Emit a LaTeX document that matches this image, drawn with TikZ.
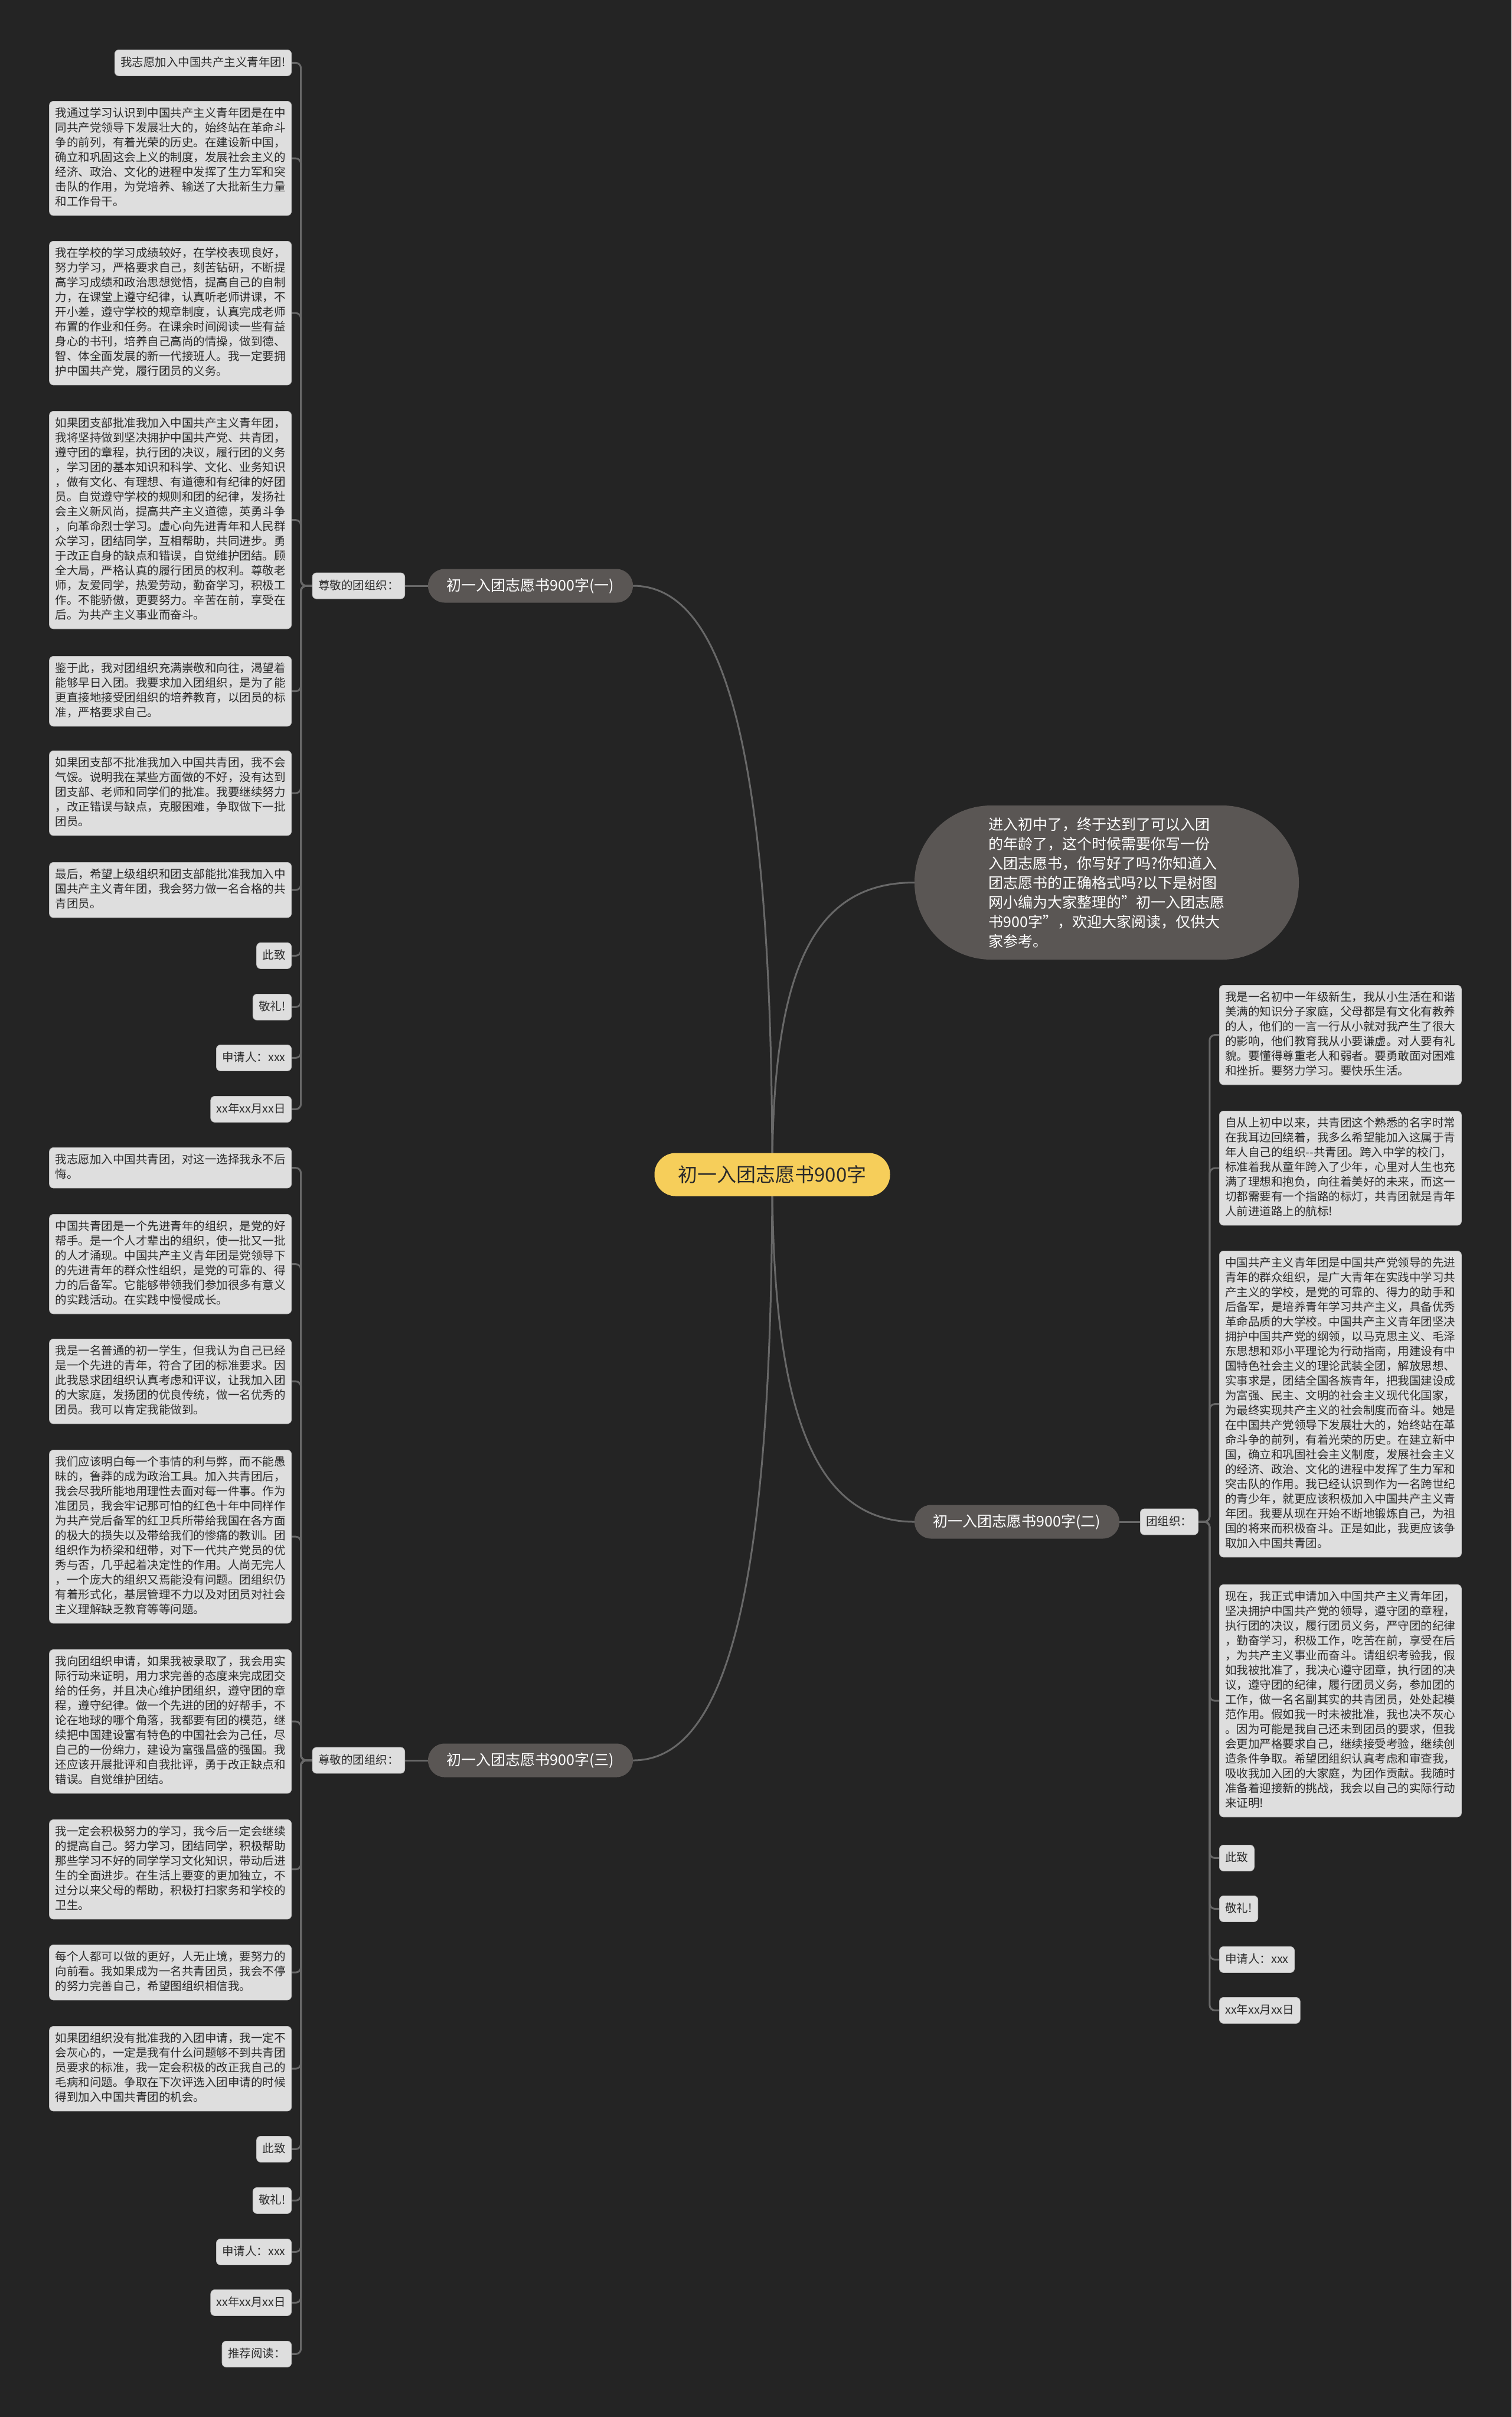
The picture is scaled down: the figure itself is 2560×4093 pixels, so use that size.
\documentclass[tikz,border=0pt]{standalone}
\usepackage{fontspec}
\setmainfont{Noto Sans CJK SC}
\usetikzlibrary{backgrounds}
\definecolor{bgc}{HTML}{242424}
\definecolor{boxfill}{HTML}{DEDEDE}
\definecolor{boxline}{HTML}{BDBDBD}
\definecolor{txtd}{HTML}{2B2B2B}
\definecolor{brfill}{HTML}{5A5654}
\definecolor{cfill}{HTML}{F6CE5A}
\definecolor{linec}{HTML}{686868}
\tikzset{
 leaf/.style={fill=boxfill, draw=boxline, line width=0.8pt, rounded corners=7pt, text=txtd,
   font=\fontsize{19.5}{25}\selectfont, align=left, inner xsep=10pt, inner ysep=11pt,
   execute at begin node={\rule{0pt}{17pt}}, execute at end node={\rule[-5pt]{0pt}{5pt}}},
 lleaf/.style={leaf, anchor=north east},
 rleaf/.style={leaf, anchor=north west},
 branch/.style={fill=brfill, text=white, rounded corners=28pt, minimum width=347pt, minimum height=57pt,
   font=\fontsize{25}{30}\selectfont, inner sep=0pt},
 centre/.style={fill=cfill, text=txtd, rounded corners=36pt, minimum width=399pt, minimum height=73pt,
   font=\fontsize{33}{40}\selectfont, inner sep=0pt},
 intro/.style={fill=brfill, text=white, rounded corners=130pt, minimum width=651pt, minimum height=261pt,
   font=\fontsize{25}{33}\selectfont, align=left, inner sep=0pt},
 conn/.style={draw=linec, line width=3pt},
 bracket/.style={conn, rounded corners=9pt},
}
\begin{document}
\begin{tikzpicture}[x=1pt,y=-1pt]
\useasboundingbox (0,0) rectangle (2560,4093);
% centre and branches
\node[centre] (c) at (1308,1989) {初一入团志愿书900字};
\node[intro] (in) at (1874.5,1494.5) {进入初中了，终于达到了可以入团\\的年龄了，这个时候需要你写一份\\入团志愿书，你写好了吗?你知道入\\团志愿书的正确格式吗?以下是树图\\网小编为大家整理的"初一入团志愿\\书900字"，欢迎大家阅读，仅供大\\家参考。};
\node[branch] (b1) at (898.5,992) {初一入团志愿书900字(一)};
\node[branch] (b2) at (1722.5,2577) {初一入团志愿书900字(二)};
\node[branch] (b3) at (898.5,2981) {初一入团志愿书900字(三)};
\node[leaf, anchor=east] (l1) at (686,992) {尊敬的团组织：};
\node[leaf, anchor=east] (l3) at (686,2981) {尊敬的团组织：};
\node[leaf, anchor=west] (l2) at (1931,2577) {团组织：};
% branch 1 children
\node[lleaf] (a1) at (494,84) {我志愿加入中国共产主义青年团!};
\node[lleaf] (a2) at (494,171) {我通过学习认识到中国共产主义青年团是在中\\同共产党领导下发展壮大的，始终站在革命斗\\争的前列，有着光荣的历史。在建设新中国，\\确立和巩固这会上义的制度，发展社会主义的\\经济、政治、文化的进程中发挥了生力军和突\\击队的作用，为党培养、输送了大批新生力量\\和工作骨干。};
\node[lleaf] (a3) at (494,408) {我在学校的学习成绩较好，在学校表现良好，\\努力学习，严格要求自己，刻苦钻研，不断提\\高学习成绩和政治思想觉悟，提高自己的自制\\力，在课堂上遵守纪律，认真听老师讲课，不\\开小差，遵守学校的规章制度，认真完成老师\\布置的作业和任务。在课余时间阅读一些有益\\身心的书刊，培养自己高尚的情操，做到德、\\智、体全面发展的新一代接班人。我一定要拥\\护中国共产党，履行团员的义务。};
\node[lleaf] (a4) at (494,696) {如果团支部批准我加入中国共产主义青年团，\\我将坚持做到坚决拥护中国共产党、共青团，\\遵守团的章程，执行团的决议，履行团的义务\\，学习团的基本知识和科学、文化、业务知识\\，做有文化、有理想、有道德和有纪律的好团\\员。自觉遵守学校的规则和团的纪律，发扬社\\会主义新风尚，提高共产主义道德，英勇斗争\\，向革命烈士学习。虚心向先进青年和人民群\\众学习，团结同学，互相帮助，共同进步。勇\\于改正自身的缺点和错误，自觉维护团结。顾\\全大局，严格认真的履行团员的权利。尊敬老\\师，友爱同学，热爱劳动，勤奋学习，积极工\\作。不能骄傲，更要努力。辛苦在前，享受在\\后。为共产主义事业而奋斗。};
\node[lleaf] (a5) at (494,1111) {鉴于此，我对团组织充满崇敬和向往，渴望着\\能够早日入团。我要求加入团组织，是为了能\\更直接地接受团组织的培养教育，以团员的标\\准，严格要求自己。};
\node[lleaf] (a6) at (494,1271) {如果团支部不批准我加入中国共青团，我不会\\气馁。说明我在某些方面做的不好，没有达到\\团支部、老师和同学们的批准。我要继续努力\\，改正错误与缺点，克服困难，争取做下一批\\团员。};
\node[lleaf] (a7) at (494,1460) {最后，希望上级组织和团支部能批准我加入中\\国共产主义青年团，我会努力做一名合格的共\\青团员。};
\node[lleaf] (a8) at (494,1596) {此致};
\node[lleaf] (a9) at (494,1683) {敬礼!};
\node[lleaf] (a10) at (494,1769) {申请人：xxx};
\node[lleaf] (a11) at (494,1856) {xx年xx月xx日};
% branch 3 children
\node[lleaf] (e1) at (494,1943) {我志愿加入中国共青团，对这一选择我永不后\\悔。};
\node[lleaf] (e2) at (494,2056) {中国共青团是一个先进青年的组织，是党的好\\帮手。是一个人才辈出的组织，使一批又一批\\的人才涌现。中国共产主义青年团是党领导下\\的先进青年的群众性组织，是党的可靠的、得\\力的后备军。它能够带领我们参加很多有意义\\的实践活动。在实践中慢慢成长。};
\node[lleaf] (e3) at (494,2267) {我是一名普通的初一学生，但我认为自己已经\\是一个先进的青年，符合了团的标准要求。因\\此我恳求团组织认真考虑和评议，让我加入团\\的大家庭，发扬团的优良传统，做一名优秀的\\团员。我可以肯定我能做到。};
\node[lleaf] (e4) at (494,2455) {我们应该明白每一个事情的利与弊，而不能愚\\昧的，鲁莽的成为政治工具。加入共青团后，\\我会尽我所能地用理性去面对每一件事。作为\\准团员，我会牢记那可怕的红色十年中同样作\\为共产党后备军的红卫兵所带给我国在各方面\\的极大的损失以及带给我们的惨痛的教训。团\\组织作为桥梁和纽带，对下一代共产党员的优\\秀与否，几乎起着决定性的作用。人尚无完人\\，一个庞大的组织又焉能没有问题。团组织仍\\有着形式化，基层管理不力以及对团员对社会\\主义理解缺乏教育等等问题。};
\node[lleaf] (e5) at (494,2793) {我向团组织申请，如果我被录取了，我会用实\\际行动来证明，用力求完善的态度来完成团交\\给的任务，并且决心维护团组织，遵守团的章\\程，遵守纪律。做一个先进的团的好帮手，不\\论在地球的哪个角落，我都要有团的模范，继\\续把中国建设富有特色的中国社会为己任，尽\\自己的一份绵力，建设为富强昌盛的强国。我\\还应该开展批评和自我批评，勇于改正缺点和\\错误。自觉维护团结。};
\node[lleaf] (e6) at (494,3081) {我一定会积极努力的学习，我今后一定会继续\\的提高自己。努力学习，团结同学，积极帮助\\那些学习不好的同学学习文化知识，带动后进\\生的全面进步。在生活上要变的更加独立，不\\过分以来父母的帮助，积极打扫家务和学校的\\卫生。};
\node[lleaf] (e7) at (494,3293) {每个人都可以做的更好，人无止境，要努力的\\向前看。我如果成为一名共青团员，我会不停\\的努力完善自己，希望图组织相信我。};
\node[lleaf] (e8) at (494,3431) {如果团组织没有批准我的入团申请，我一定不\\会灰心的，一定是我有什么问题够不到共青团\\员要求的标准，我一定会积极的改正我自己的\\毛病和问题。争取在下次评选入团申请的时候\\得到加入中国共青团的机会。};
\node[lleaf] (e9) at (494,3617) {此致};
\node[lleaf] (e10) at (494,3704) {敬礼!};
\node[lleaf] (e11) at (494,3791) {申请人：xxx};
\node[lleaf] (e12) at (494,3877) {xx年xx月xx日};
\node[lleaf] (e13) at (494,3964) {推荐阅读：};
% branch 2 children
\node[rleaf] (d1) at (2065,1668) {我是一名初中一年级新生，我从小生活在和谐\\美满的知识分子家庭，父母都是有文化有教养\\的人，他们的一言一行从小就对我产生了很大\\的影响，他们教育我从小要谦虚。对人要有礼\\貌。要懂得尊重老人和弱者。要勇敢面对困难\\和挫折。要努力学习。要快乐生活。};
\node[rleaf] (d2) at (2065,1881) {自从上初中以来，共青团这个熟悉的名字时常\\在我耳边回绕着，我多么希望能加入这属于青\\年人自己的组织-{}-共青团。跨入中学的校门，\\标准着我从童年跨入了少年，心里对人生也充\\满了理想和抱负，向往着美好的未来，而这一\\切都需要有一个指路的标灯，共青团就是青年\\人前进道路上的航标!};
\node[rleaf] (d3) at (2065,2118) {中国共产主义青年团是中国共产党领导的先进\\青年的群众组织，是广大青年在实践中学习共\\产主义的学校，是党的可靠的、得力的助手和\\后备军，是培养青年学习共产主义，具备优秀\\革命品质的大学校。中国共产主义青年团坚决\\拥护中国共产党的纲领，以马克思主义、毛泽\\东思想和邓小平理论为行动指南，用建设有中\\国特色社会主义的理论武装全团，解放思想、\\实事求是，团结全国各族青年，把我国建设成\\为富强、民主、文明的社会主义现代化国家，\\为最终实现共产主义的社会制度而奋斗。她是\\在中国共产党领导下发展壮大的，始终站在革\\命斗争的前列，有着光荣的历史。在建立新中\\国，确立和巩固社会主义制度，发展社会主义\\的经济、政治、文化的进程中发挥了生力军和\\突击队的作用。我已经认识到作为一名跨世纪\\的青少年，就更应该积极加入中国共产主义青\\年团。我要从现在开始不断地锻炼自己，为祖\\国的将来而积极奋斗。正是如此，我更应该争\\取加入中国共青团。};
\node[rleaf] (d4) at (2065,2683) {现在，我正式申请加入中国共产主义青年团，\\坚决拥护中国共产党的领导，遵守团的章程，\\执行团的决议，履行团员义务，严守团的纪律\\，勤奋学习，积极工作，吃苦在前，享受在后\\，为共产主义事业而奋斗。请组织考验我，假\\如我被批准了，我决心遵守团章，执行团的决\\议，遵守团的纪律，履行团员义务，参加团的\\工作，做一名名副其实的共青团员，处处起模\\范作用。假如我一时未被批准，我也决不灰心\\。因为可能是我自己还未到团员的要求，但我\\会更加严格要求自己，继续接受考验，继续创\\造条件争取。希望团组织认真考虑和审查我，\\吸收我加入团的大家庭，为团作贡献。我随时\\准备着迎接新的挑战，我会以自己的实际行动\\来证明!};
\node[rleaf] (d5) at (2065,3124) {此致};
\node[rleaf] (d6) at (2065,3210) {敬礼!};
\node[rleaf] (d7) at (2065,3296) {申请人：xxx};
\node[rleaf] (d8) at (2065,3382) {xx年xx月xx日};
% connectors
\begin{scope}[on background layer]
\fill[bgc] (0,0) rectangle (2560,4093);
\draw[conn] (c.center) .. controls +(0,-700) and +(160,0) .. (b1.east);
\draw[conn] (c.center) .. controls +(0,-350) and +(-170,0) .. (in.west);
\draw[conn] (c.center) .. controls +(0,400) and +(-170,0) .. (b2.west);
\draw[conn] (c.center) .. controls +(0,700) and +(160,0) .. (b3.east);
\draw[conn] (b1.west) -- (l1.east);
\draw[conn] (b3.west) -- (l3.east);
\draw[conn] (b2.east) -- (l2.west);
\foreach \n in {a1,a2,a3,a4,a5,a6,a7,a8,a9,a10,a11}
  \draw[bracket] (l1.west) -- ++(-19,0) |- (\n.east);
\foreach \n in {e1,e2,e3,e4,e5,e6,e7,e8,e9,e10,e11,e12,e13}
  \draw[bracket] (l3.west) -- ++(-19,0) |- (\n.east);
\foreach \n in {d1,d2,d3,d4,d5,d6,d7,d8}
  \draw[bracket] (l2.east) -- ++(19,0) |- (\n.west);
\end{scope}
\end{tikzpicture}
\end{document}
